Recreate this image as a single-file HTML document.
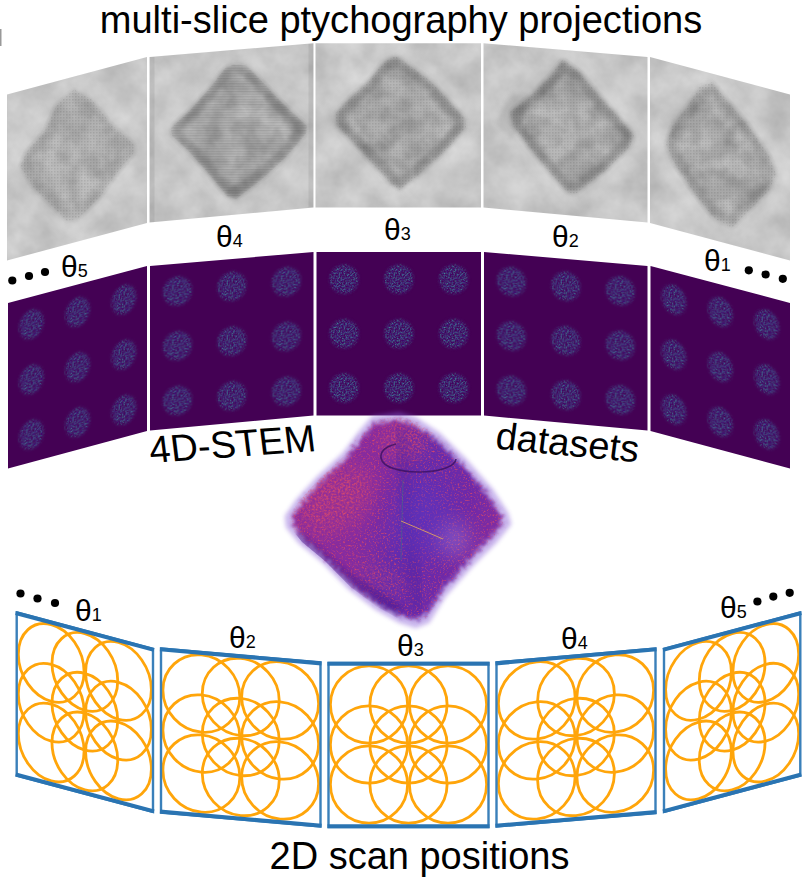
<!DOCTYPE html><html><head><meta charset="utf-8"><style>
html,body{margin:0;padding:0;background:#fff}
svg{display:block}
text{font-family:"Liberation Sans",sans-serif;fill:#000}
</style></head><body>
<svg width="806" height="889" viewBox="0 0 806 889">
<defs>
<filter id="cloud" x="0" y="0" width="100%" height="100%" color-interpolation-filters="sRGB">
<feTurbulence type="fractalNoise" baseFrequency="0.03" numOctaves="4" seed="7" result="n"/>
<feColorMatrix in="n" type="matrix" values="0.18 0 0 0 0.685  0.18 0 0 0 0.685  0.18 0 0 0 0.685  0 0 0 0 1"/>
</filter>
<filter id="blur4" x="-20%" y="-20%" width="140%" height="140%"><feGaussianBlur stdDeviation="2.2"/></filter>
<filter id="blur6" x="-80%" y="-80%" width="260%" height="260%"><feGaussianBlur stdDeviation="11"/></filter>
<filter id="blur5" x="-20%" y="-20%" width="140%" height="140%"><feGaussianBlur stdDeviation="4.5"/></filter>
<filter id="blur2" x="-20%" y="-20%" width="140%" height="140%"><feGaussianBlur stdDeviation="2"/></filter>
<filter id="speck" x="-10%" y="-10%" width="120%" height="120%" color-interpolation-filters="sRGB">
<feTurbulence type="fractalNoise" baseFrequency="0.6" numOctaves="2" seed="11" result="n"/>
<feColorMatrix in="n" type="matrix" values="0 0 0 0 0.25  1.0 0 0 0 -0.24  0.2 0 0 0 0.42  0 0 0 2.0 -0.42" result="c"/>
<feGaussianBlur in="SourceGraphic" stdDeviation="1.4" result="sb"/>
<feComposite in="c" in2="sb" operator="in"/>
</filter>
<filter id="mottle" x="-10%" y="-10%" width="120%" height="120%" color-interpolation-filters="sRGB">
<feGaussianBlur in="SourceGraphic" stdDeviation="2.5" result="b"/>
<feTurbulence type="fractalNoise" baseFrequency="0.05" numOctaves="3" seed="33" result="n"/>
<feColorMatrix in="n" type="matrix" values="0 0 0 0 0.15  0 0 0 0 0.15  0 0 0 0 0.15  0 0 0 2 -0.65" result="o"/>
<feComposite in="o" in2="b" operator="in"/>
</filter>
<pattern id="lat" width="3" height="3" patternUnits="userSpaceOnUse"><rect width="1.5" height="1.5" fill="#000"/></pattern>
<pattern id="lath" width="3" height="2.6" patternUnits="userSpaceOnUse"><rect width="3" height="1.2" fill="#000"/></pattern>
<filter id="grain" x="-10%" y="-10%" width="120%" height="120%" color-interpolation-filters="sRGB">
<feTurbulence type="fractalNoise" baseFrequency="0.4" numOctaves="2" seed="9" result="e"/>
<feDisplacementMap in="SourceGraphic" in2="e" scale="16" xChannelSelector="R" yChannelSelector="G" result="d"/>
<feGaussianBlur in="d" stdDeviation="1.6" result="b"/>
<feTurbulence type="fractalNoise" baseFrequency="0.55" numOctaves="2" seed="5" result="n"/>
<feColorMatrix in="n" type="matrix" values="0 0 0 0 0.84  0 0 0 0 0.28  0 0 0 0 0.42  3 0 0 0 -1.6" result="o"/>
<feComposite in="o" in2="b" operator="in" result="oo"/>
<feMerge><feMergeNode in="b"/><feMergeNode in="oo"/></feMerge>
</filter>
<filter id="speck2" x="-60%" y="-60%" width="220%" height="220%" color-interpolation-filters="sRGB">
<feGaussianBlur in="SourceGraphic" stdDeviation="10" result="b"/>
<feTurbulence type="fractalNoise" baseFrequency="0.5" numOctaves="2" seed="21" result="n"/>
<feColorMatrix in="n" type="matrix" values="0 0 0 0 0.88  0 0 0 0 0.3  0 0 0 0 0.4  3 0 0 0 -1.32" result="o"/>
<feComposite in="o" in2="b" operator="in"/>
</filter>
<linearGradient id="pg" x1="0" y1="0.3" x2="1" y2="0.6"><stop offset="0" stop-color="#8c2c9c"/><stop offset="0.35" stop-color="#862ca0"/><stop offset="0.55" stop-color="#652cae"/><stop offset="0.8" stop-color="#6f2aa8"/><stop offset="1" stop-color="#842ca0"/></linearGradient>

<clipPath id="g0"><polygon points="7.0,94.5 147.0,57.0 147.0,223.0 7.0,260.5"/></clipPath>
<clipPath id="g1"><polygon points="149.5,57.0 313.5,43.3 313.5,207.5 149.5,222.5"/></clipPath>
<clipPath id="g2"><polygon points="315.5,43.3 481.0,43.3 481.0,207.5 315.5,207.5"/></clipPath>
<clipPath id="g3"><polygon points="483.5,43.3 647.5,57.0 647.5,222.5 483.5,207.5"/></clipPath>
<clipPath id="g4"><polygon points="650.0,57.0 790.0,94.5 790.0,260.5 650.0,223.0"/></clipPath>
<clipPath id="p0"><polygon points="8.0,303.0 147.0,266.0 147.0,431.0 8.0,468.5"/></clipPath>
<clipPath id="p1"><polygon points="150.0,266.0 313.5,252.0 313.5,415.5 150.0,430.5"/></clipPath>
<clipPath id="p2"><polygon points="316.5,252.0 481.0,252.0 481.0,415.5 316.5,415.5"/></clipPath>
<clipPath id="p3"><polygon points="484.0,252.0 647.5,266.0 647.5,430.5 484.0,415.5"/></clipPath>
<clipPath id="p4"><polygon points="650.5,266.0 790.0,303.0 790.0,468.5 650.5,431.0"/></clipPath>
<clipPath id="pc"><polygon points="373.0,420.0 399.0,416.0 415.0,421.0 438.0,436.0 463.5,461.0 489.0,490.0 504.0,513.0 507.0,524.0 492.6,542.0 470.0,564.5 444.0,593.5 428.0,619.0 415.0,624.0 399.0,619.0 376.5,606.5 350.6,587.0 325.0,561.0 302.0,542.0 290.0,527.0 289.0,516.0 300.0,500.0 320.0,478.0 345.0,455.0 360.0,435.0"/></clipPath>
</defs>
<rect width="806" height="889" fill="#fff"/>
<rect x="0" y="29" width="1.5" height="17" fill="#999"/>
<g clip-path="url(#g0)">
<rect x="0" y="40" width="806" height="225" filter="url(#cloud)"/>
<polygon points="73.6,76.0 94.8,87.9 118.0,117.3 145.3,141.3 146.8,150.3 124.0,177.3 103.6,206.7 79.6,230.1 65.2,233.7 44.2,212.7 23.2,191.7 8.8,167.7 17.2,150.3 38.4,126.5 53.2,93.9" fill="none" stroke="#fff" stroke-width="8" opacity="0.16" filter="url(#blur5)"/>
<polygon points="74.0,89.6 91.6,99.5 111.0,124.0 133.7,144.0 135.0,151.5 116.0,174.0 99.0,198.5 79.0,218.0 67.0,221.0 49.5,203.5 32.0,186.0 20.0,166.0 27.0,151.5 44.6,131.7 57.0,104.5" fill="#404040" opacity="0.08" filter="url(#blur4)"/>
<polygon points="74.2,96.4 90.0,105.3 107.5,127.4 127.9,145.4 129.1,152.1 112.0,172.4 96.7,194.4 78.7,212.0 67.9,214.7 52.1,198.9 36.4,183.2 25.6,165.2 31.9,152.1 47.7,134.3 58.9,109.8" fill="none" stroke="#303030" stroke-width="9" stroke-linejoin="round" opacity="0.06" filter="url(#blur4)"/>
<polygon points="74.0,89.6 91.6,99.5 111.0,124.0 133.7,144.0 135.0,151.5 116.0,174.0 99.0,198.5 79.0,218.0 67.0,221.0 49.5,203.5 32.0,186.0 20.0,166.0 27.0,151.5 44.6,131.7 57.0,104.5" fill="#000" opacity="0.16" filter="url(#mottle)"/>
<polygon points="74.0,89.6 91.6,99.5 111.0,124.0 133.7,144.0 135.0,151.5 116.0,174.0 99.0,198.5 79.0,218.0 67.0,221.0 49.5,203.5 32.0,186.0 20.0,166.0 27.0,151.5 44.6,131.7 57.0,104.5" fill="url(#lat)" opacity="0.09"/>
</g>
<g clip-path="url(#g1)">
<rect x="0" y="40" width="806" height="225" filter="url(#cloud)"/>
<polygon points="234.7,51.3 249.1,53.7 273.1,78.9 293.5,100.5 321.1,125.7 319.9,134.7 295.9,162.9 267.1,189.3 235.9,213.3 225.8,210.3 204.7,184.5 178.9,155.7 159.1,137.2 157.9,128.1 178.9,108.9 204.7,80.1 223.2,56.1" fill="none" stroke="#fff" stroke-width="8" opacity="0.16" filter="url(#blur5)"/>
<polygon points="235.0,64.0 247.0,66.0 267.0,87.0 284.0,105.0 307.0,126.0 306.0,133.5 286.0,157.0 262.0,179.0 236.0,199.0 227.6,196.5 210.0,175.0 188.5,151.0 172.0,135.6 171.0,128.0 188.5,112.0 210.0,88.0 225.4,68.0" fill="#404040" opacity="0.13" filter="url(#blur4)"/>
<polygon points="235.2,70.4 246.0,72.2 264.0,91.1 279.3,107.3 300.0,126.2 299.1,132.9 281.1,154.1 259.5,173.9 236.1,191.9 228.5,189.6 212.7,170.3 193.3,148.7 178.5,134.8 177.6,128.0 193.3,113.6 212.7,92.0 226.5,74.0" fill="none" stroke="#303030" stroke-width="9" stroke-linejoin="round" opacity="0.2" filter="url(#blur4)"/>
<polygon points="235.0,64.0 247.0,66.0 267.0,87.0 284.0,105.0 307.0,126.0 306.0,133.5 286.0,157.0 262.0,179.0 236.0,199.0 227.6,196.5 210.0,175.0 188.5,151.0 172.0,135.6 171.0,128.0 188.5,112.0 210.0,88.0 225.4,68.0" fill="#000" opacity="0.2" filter="url(#mottle)"/>
<polygon points="235.0,64.0 247.0,66.0 267.0,87.0 284.0,105.0 307.0,126.0 306.0,133.5 286.0,157.0 262.0,179.0 236.0,199.0 227.6,196.5 210.0,175.0 188.5,151.0 172.0,135.6 171.0,128.0 188.5,112.0 210.0,88.0 225.4,68.0" fill="url(#lath)" opacity="0.09"/>
<polygon points="149.5,57 154.5,57 154.5,222.5 149.5,222.5" fill="#000" opacity="0.07"/>
<polygon points="313.5,43.3 308.5,43.3 308.5,207.5 313.5,207.5" fill="#000" opacity="0.07"/>
</g>
<g clip-path="url(#g2)">
<rect x="0" y="40" width="806" height="225" filter="url(#cloud)"/>
<polygon points="394.5,43.7 410.7,54.5 437.7,74.8 458.7,97.7 477.9,119.2 479.1,128.8 458.7,152.8 422.7,186.4 398.7,204.4 390.3,198.4 354.3,158.8 324.3,127.7 321.9,113.2 333.9,100.0 363.3,72.5 380.7,50.9" fill="none" stroke="#fff" stroke-width="8" opacity="0.16" filter="url(#blur5)"/>
<polygon points="395.5,56.0 409.0,65.0 431.5,82.0 449.0,101.0 465.0,119.0 466.0,127.0 449.0,147.0 419.0,175.0 399.0,190.0 392.0,185.0 362.0,152.0 337.0,126.0 335.0,114.0 345.0,103.0 369.5,80.0 384.0,62.0" fill="#404040" opacity="0.13" filter="url(#blur4)"/>
<polygon points="396.0,62.2 408.1,70.3 428.4,85.6 444.1,102.7 458.5,118.9 459.4,126.1 444.1,144.1 417.1,169.3 399.1,182.8 392.8,178.3 365.8,148.6 343.3,125.2 341.5,114.4 350.5,104.5 372.6,83.8 385.6,67.6" fill="none" stroke="#303030" stroke-width="9" stroke-linejoin="round" opacity="0.21" filter="url(#blur4)"/>
<polygon points="395.5,56.0 409.0,65.0 431.5,82.0 449.0,101.0 465.0,119.0 466.0,127.0 449.0,147.0 419.0,175.0 399.0,190.0 392.0,185.0 362.0,152.0 337.0,126.0 335.0,114.0 345.0,103.0 369.5,80.0 384.0,62.0" fill="#000" opacity="0.2" filter="url(#mottle)"/>
<polygon points="395.5,56.0 409.0,65.0 431.5,82.0 449.0,101.0 465.0,119.0 466.0,127.0 449.0,147.0 419.0,175.0 399.0,190.0 392.0,185.0 362.0,152.0 337.0,126.0 335.0,114.0 345.0,103.0 369.5,80.0 384.0,62.0" fill="url(#lat)" opacity="0.09"/>
</g>
<g clip-path="url(#g3)">
<rect x="0" y="40" width="806" height="225" filter="url(#cloud)"/>
<polygon points="560.9,45.8 579.4,58.8 607.9,92.8 631.0,118.3 646.6,137.0 641.8,150.1 613.0,178.3 576.5,207.1 566.2,204.7 548.2,184.3 526.6,157.9 500.9,124.3 497.8,108.7 521.8,90.1 545.2,66.7" fill="none" stroke="#fff" stroke-width="8" opacity="0.16" filter="url(#blur5)"/>
<polygon points="562.6,59.6 578.0,70.4 601.7,98.7 621.0,120.0 634.0,135.6 630.0,146.5 606.0,170.0 575.6,194.0 567.0,192.0 552.0,175.0 534.0,153.0 512.6,125.0 510.0,112.0 530.0,96.5 549.5,77.0" fill="#404040" opacity="0.12" filter="url(#blur4)"/>
<polygon points="563.4,66.5 577.3,76.2 598.6,101.7 616.0,120.8 627.7,134.9 624.1,144.7 602.5,165.8 575.1,187.4 567.4,185.6 553.9,170.3 537.7,150.5 518.4,125.3 516.1,113.6 534.1,99.7 551.6,82.1" fill="none" stroke="#303030" stroke-width="9" stroke-linejoin="round" opacity="0.2" filter="url(#blur4)"/>
<polygon points="512,92 495,123 513,140 532,97" fill="#404040" opacity="0.13" filter="url(#blur4)"/>
<polygon points="562.6,59.6 578.0,70.4 601.7,98.7 621.0,120.0 634.0,135.6 630.0,146.5 606.0,170.0 575.6,194.0 567.0,192.0 552.0,175.0 534.0,153.0 512.6,125.0 510.0,112.0 530.0,96.5 549.5,77.0" fill="#000" opacity="0.2" filter="url(#mottle)"/>
<polygon points="562.6,59.6 578.0,70.4 601.7,98.7 621.0,120.0 634.0,135.6 630.0,146.5 606.0,170.0 575.6,194.0 567.0,192.0 552.0,175.0 534.0,153.0 512.6,125.0 510.0,112.0 530.0,96.5 549.5,77.0" fill="url(#lat)" opacity="0.09"/>
</g>
<g clip-path="url(#g4)">
<rect x="0" y="40" width="806" height="225" filter="url(#cloud)"/>
<polygon points="710.3,67.7 724.9,85.7 754.9,121.3 778.9,156.5 787.3,178.1 778.9,198.5 757.9,218.9 734.1,242.9 712.9,230.9 689.5,201.6 665.8,166.1 655.3,142.1 662.5,121.3 680.5,97.7 695.5,73.7" fill="none" stroke="#fff" stroke-width="8" opacity="0.16" filter="url(#blur5)"/>
<polygon points="711.8,82.0 724.0,97.0 749.0,126.7 769.0,156.0 776.0,174.0 769.0,191.0 751.5,208.0 731.6,228.0 714.0,218.0 694.5,193.6 674.7,164.0 666.0,144.0 672.0,126.7 687.0,107.0 699.5,87.0" fill="#404040" opacity="0.1" filter="url(#blur4)"/>
<polygon points="712.6,89.2 723.5,102.7 746.0,129.4 764.0,155.8 770.3,172.0 764.0,187.3 748.3,202.6 730.4,220.6 714.5,211.6 697.0,189.6 679.2,163.0 671.3,145.0 676.7,129.4 690.2,111.7 701.5,93.7" fill="none" stroke="#303030" stroke-width="9" stroke-linejoin="round" opacity="0.13" filter="url(#blur4)"/>
<polygon points="711.8,82.0 724.0,97.0 749.0,126.7 769.0,156.0 776.0,174.0 769.0,191.0 751.5,208.0 731.6,228.0 714.0,218.0 694.5,193.6 674.7,164.0 666.0,144.0 672.0,126.7 687.0,107.0 699.5,87.0" fill="#000" opacity="0.2" filter="url(#mottle)"/>
<polygon points="711.8,82.0 724.0,97.0 749.0,126.7 769.0,156.0 776.0,174.0 769.0,191.0 751.5,208.0 731.6,228.0 714.0,218.0 694.5,193.6 674.7,164.0 666.0,144.0 672.0,126.7 687.0,107.0 699.5,87.0" fill="url(#lat)" opacity="0.09"/>
</g>
<polygon points="8.0,303.0 147.0,266.0 147.0,431.0 8.0,468.5" fill="#440154"/>
<g clip-path="url(#p0)">
<ellipse cx="0" cy="0" rx="12.2" ry="14.5" transform="matrix(1 -0.266 0 1 31.4 324.4)" fill="#fff" filter="url(#speck)"/>
<ellipse cx="0" cy="0" rx="12.2" ry="14.5" transform="matrix(1 -0.266 0 1 77.6 312.1)" fill="#fff" filter="url(#speck)"/>
<ellipse cx="0" cy="0" rx="12.2" ry="14.5" transform="matrix(1 -0.266 0 1 123.9 299.7)" fill="#fff" filter="url(#speck)"/>
<ellipse cx="0" cy="0" rx="12.2" ry="14.5" transform="matrix(1 -0.266 0 1 31.4 379.5)" fill="#fff" filter="url(#speck)"/>
<ellipse cx="0" cy="0" rx="12.2" ry="14.5" transform="matrix(1 -0.266 0 1 77.6 367.2)" fill="#fff" filter="url(#speck)"/>
<ellipse cx="0" cy="0" rx="12.2" ry="14.5" transform="matrix(1 -0.266 0 1 123.9 354.8)" fill="#fff" filter="url(#speck)"/>
<ellipse cx="0" cy="0" rx="12.2" ry="14.5" transform="matrix(1 -0.266 0 1 31.4 434.6)" fill="#fff" filter="url(#speck)"/>
<ellipse cx="0" cy="0" rx="12.2" ry="14.5" transform="matrix(1 -0.266 0 1 77.6 422.3)" fill="#fff" filter="url(#speck)"/>
<ellipse cx="0" cy="0" rx="12.2" ry="14.5" transform="matrix(1 -0.266 0 1 123.9 410.0)" fill="#fff" filter="url(#speck)"/>
</g>
<polygon points="150.0,266.0 313.5,252.0 313.5,415.5 150.0,430.5" fill="#440154"/>
<g clip-path="url(#p1)">
<ellipse cx="0" cy="0" rx="14.4" ry="14.5" transform="matrix(1 -0.086 0 1 177.5 291.1)" fill="#fff" filter="url(#speck)"/>
<ellipse cx="0" cy="0" rx="14.4" ry="14.5" transform="matrix(1 -0.086 0 1 231.9 286.4)" fill="#fff" filter="url(#speck)"/>
<ellipse cx="0" cy="0" rx="14.4" ry="14.5" transform="matrix(1 -0.086 0 1 286.4 281.7)" fill="#fff" filter="url(#speck)"/>
<ellipse cx="0" cy="0" rx="14.4" ry="14.5" transform="matrix(1 -0.086 0 1 177.5 345.8)" fill="#fff" filter="url(#speck)"/>
<ellipse cx="0" cy="0" rx="14.4" ry="14.5" transform="matrix(1 -0.086 0 1 231.9 341.2)" fill="#fff" filter="url(#speck)"/>
<ellipse cx="0" cy="0" rx="14.4" ry="14.5" transform="matrix(1 -0.086 0 1 286.4 336.5)" fill="#fff" filter="url(#speck)"/>
<ellipse cx="0" cy="0" rx="14.4" ry="14.5" transform="matrix(1 -0.086 0 1 177.5 400.6)" fill="#fff" filter="url(#speck)"/>
<ellipse cx="0" cy="0" rx="14.4" ry="14.5" transform="matrix(1 -0.086 0 1 231.9 396.0)" fill="#fff" filter="url(#speck)"/>
<ellipse cx="0" cy="0" rx="14.4" ry="14.5" transform="matrix(1 -0.086 0 1 286.4 391.3)" fill="#fff" filter="url(#speck)"/>
</g>
<polygon points="316.5,252.0 481.0,252.0 481.0,415.5 316.5,415.5" fill="#440154"/>
<g clip-path="url(#p2)">
<ellipse cx="0" cy="0" rx="14.5" ry="14.5" transform="matrix(1 0.000 0 1 344.1 279.3)" fill="#fff" filter="url(#speck)"/>
<ellipse cx="0" cy="0" rx="14.5" ry="14.5" transform="matrix(1 0.000 0 1 398.9 279.3)" fill="#fff" filter="url(#speck)"/>
<ellipse cx="0" cy="0" rx="14.5" ry="14.5" transform="matrix(1 0.000 0 1 453.7 279.3)" fill="#fff" filter="url(#speck)"/>
<ellipse cx="0" cy="0" rx="14.5" ry="14.5" transform="matrix(1 0.000 0 1 344.1 333.7)" fill="#fff" filter="url(#speck)"/>
<ellipse cx="0" cy="0" rx="14.5" ry="14.5" transform="matrix(1 0.000 0 1 398.9 333.7)" fill="#fff" filter="url(#speck)"/>
<ellipse cx="0" cy="0" rx="14.5" ry="14.5" transform="matrix(1 0.000 0 1 453.7 333.7)" fill="#fff" filter="url(#speck)"/>
<ellipse cx="0" cy="0" rx="14.5" ry="14.5" transform="matrix(1 0.000 0 1 344.1 388.1)" fill="#fff" filter="url(#speck)"/>
<ellipse cx="0" cy="0" rx="14.5" ry="14.5" transform="matrix(1 0.000 0 1 398.9 388.1)" fill="#fff" filter="url(#speck)"/>
<ellipse cx="0" cy="0" rx="14.5" ry="14.5" transform="matrix(1 0.000 0 1 453.7 388.1)" fill="#fff" filter="url(#speck)"/>
</g>
<polygon points="484.0,252.0 647.5,266.0 647.5,430.5 484.0,415.5" fill="#440154"/>
<g clip-path="url(#p3)">
<ellipse cx="0" cy="0" rx="14.4" ry="14.5" transform="matrix(1 0.086 0 1 511.5 281.6)" fill="#fff" filter="url(#speck)"/>
<ellipse cx="0" cy="0" rx="14.4" ry="14.5" transform="matrix(1 0.086 0 1 565.9 286.3)" fill="#fff" filter="url(#speck)"/>
<ellipse cx="0" cy="0" rx="14.4" ry="14.5" transform="matrix(1 0.086 0 1 620.4 290.9)" fill="#fff" filter="url(#speck)"/>
<ellipse cx="0" cy="0" rx="14.4" ry="14.5" transform="matrix(1 0.086 0 1 511.5 336.1)" fill="#fff" filter="url(#speck)"/>
<ellipse cx="0" cy="0" rx="14.4" ry="14.5" transform="matrix(1 0.086 0 1 565.9 340.7)" fill="#fff" filter="url(#speck)"/>
<ellipse cx="0" cy="0" rx="14.4" ry="14.5" transform="matrix(1 0.086 0 1 620.4 345.4)" fill="#fff" filter="url(#speck)"/>
<ellipse cx="0" cy="0" rx="14.4" ry="14.5" transform="matrix(1 0.086 0 1 511.5 390.5)" fill="#fff" filter="url(#speck)"/>
<ellipse cx="0" cy="0" rx="14.4" ry="14.5" transform="matrix(1 0.086 0 1 565.9 395.2)" fill="#fff" filter="url(#speck)"/>
<ellipse cx="0" cy="0" rx="14.4" ry="14.5" transform="matrix(1 0.086 0 1 620.4 399.8)" fill="#fff" filter="url(#speck)"/>
</g>
<polygon points="650.5,266.0 790.0,303.0 790.0,468.5 650.5,431.0" fill="#440154"/>
<g clip-path="url(#p4)">
<ellipse cx="0" cy="0" rx="12.3" ry="14.5" transform="matrix(1 0.265 0 1 673.9 299.7)" fill="#fff" filter="url(#speck)"/>
<ellipse cx="0" cy="0" rx="12.3" ry="14.5" transform="matrix(1 0.265 0 1 720.4 312.0)" fill="#fff" filter="url(#speck)"/>
<ellipse cx="0" cy="0" rx="12.3" ry="14.5" transform="matrix(1 0.265 0 1 766.8 324.4)" fill="#fff" filter="url(#speck)"/>
<ellipse cx="0" cy="0" rx="12.3" ry="14.5" transform="matrix(1 0.265 0 1 673.9 354.7)" fill="#fff" filter="url(#speck)"/>
<ellipse cx="0" cy="0" rx="12.3" ry="14.5" transform="matrix(1 0.265 0 1 720.4 367.0)" fill="#fff" filter="url(#speck)"/>
<ellipse cx="0" cy="0" rx="12.3" ry="14.5" transform="matrix(1 0.265 0 1 766.8 379.3)" fill="#fff" filter="url(#speck)"/>
<ellipse cx="0" cy="0" rx="12.3" ry="14.5" transform="matrix(1 0.265 0 1 673.9 409.6)" fill="#fff" filter="url(#speck)"/>
<ellipse cx="0" cy="0" rx="12.3" ry="14.5" transform="matrix(1 0.265 0 1 720.4 421.9)" fill="#fff" filter="url(#speck)"/>
<ellipse cx="0" cy="0" rx="12.3" ry="14.5" transform="matrix(1 0.265 0 1 766.8 434.3)" fill="#fff" filter="url(#speck)"/>
</g>
<polygon points="372.1,416.0 399.1,411.9 415.8,417.1 439.7,432.7 466.2,458.7 492.7,488.8 508.3,512.8 511.5,524.2 496.5,542.9 473.0,566.3 445.9,596.5 429.3,623.0 415.8,628.2 399.1,623.0 375.7,610.0 348.8,589.7 322.2,562.7 298.3,542.9 285.8,527.3 284.7,515.9 296.2,499.2 317.0,476.4 343.0,452.4 358.6,431.6" fill="#8a60d8" opacity="0.45" filter="url(#blur4)"/>
<polygon points="373.9,424.0 398.9,420.1 414.2,424.9 436.3,439.3 460.8,463.3 485.3,491.2 499.7,513.2 502.5,523.8 488.7,541.1 467.0,562.7 442.1,590.5 426.7,615.0 414.2,619.8 398.9,615.0 377.3,603.0 352.4,584.3 327.8,559.3 305.7,541.1 294.2,526.7 293.3,516.1 303.8,500.8 323.0,479.6 347.0,457.6 361.4,438.4" fill="url(#pg)" filter="url(#grain)"/>
<g clip-path="url(#pc)">
<ellipse cx="340" cy="500" rx="40" ry="28" fill="#d04078" opacity="0.1" filter="url(#blur6)" transform="rotate(-35 340 500)"/>
<ellipse cx="405" cy="440" rx="22" ry="18" fill="#d04078" opacity="0.1" filter="url(#blur6)"/>
<ellipse cx="335" cy="500" rx="42" ry="26" fill="#fff" filter="url(#speck2)" transform="rotate(-40 335 500)"/>
<ellipse cx="405" cy="440" rx="24" ry="18" fill="#fff" filter="url(#speck2)"/>
<ellipse cx="380" cy="580" rx="30" ry="14" fill="#fff" opacity="0.7" filter="url(#speck2)" transform="rotate(35 380 580)"/>
<path d="M296,536 L350,580 L400,612" fill="none" stroke="#47188a" stroke-width="12" opacity="0.45" filter="url(#blur4)"/>
<path d="M400,430 L408,520 L418,610" fill="none" stroke="#4a20a0" stroke-width="14" opacity="0.3" filter="url(#blur5)"/>
<ellipse cx="425" cy="520" rx="30" ry="40" fill="#5a38c8" opacity="0.4" filter="url(#blur6)"/>
<ellipse cx="455" cy="540" rx="12" ry="16" fill="#b9a0e8" opacity="0.45" filter="url(#blur6)"/>
</g>
<path d="M456,459 C455,475 385,478 381,458 C380,450 388,446 396,444" fill="none" stroke="#3a1060" stroke-width="1.6" opacity="0.8"/>
<line x1="403" y1="480" x2="401" y2="560" stroke="#3a7a80" stroke-width="0.8" opacity="0.6"/>
<line x1="401" y1="521" x2="443" y2="539" stroke="#e0a060" stroke-width="0.9"/>
<g transform="matrix(0.8519 0.2269 0.0000 0.9945 16.7 612.5)">
<circle cx="40.5" cy="41.5" r="38.6" fill="none" stroke="#ffa50a" stroke-width="2.8" vector-effect="non-scaling-stroke"/>
<circle cx="80" cy="41.5" r="38.6" fill="none" stroke="#ffa50a" stroke-width="2.8" vector-effect="non-scaling-stroke"/>
<circle cx="119.5" cy="41.5" r="38.6" fill="none" stroke="#ffa50a" stroke-width="2.8" vector-effect="non-scaling-stroke"/>
<circle cx="40.5" cy="81.5" r="38.6" fill="none" stroke="#ffa50a" stroke-width="2.8" vector-effect="non-scaling-stroke"/>
<circle cx="80" cy="81.5" r="38.6" fill="none" stroke="#ffa50a" stroke-width="2.8" vector-effect="non-scaling-stroke"/>
<circle cx="119.5" cy="81.5" r="38.6" fill="none" stroke="#ffa50a" stroke-width="2.8" vector-effect="non-scaling-stroke"/>
<circle cx="40.5" cy="121.5" r="38.6" fill="none" stroke="#ffa50a" stroke-width="2.8" vector-effect="non-scaling-stroke"/>
<circle cx="80" cy="121.5" r="38.6" fill="none" stroke="#ffa50a" stroke-width="2.8" vector-effect="non-scaling-stroke"/>
<circle cx="119.5" cy="121.5" r="38.6" fill="none" stroke="#ffa50a" stroke-width="2.8" vector-effect="non-scaling-stroke"/>
</g>
<polygon points="16.7,612.5 153.0,648.8 153.0,811.9 16.7,775.6" fill="none" stroke="#3a80ba" stroke-width="2.4"/>
<line x1="15.7" y1="613.0336757153337" x2="154" y2="649.8663242846661" stroke="#2a74b2" stroke-width="4.1"/>
<line x1="15.7" y1="774.5336757153339" x2="154" y2="811.3663242846662" stroke="#2a74b2" stroke-width="4.1"/>
<g transform="matrix(0.9969 0.0875 0.0000 1.0000 161.0 648.5)">
<circle cx="40.5" cy="41.5" r="38.6" fill="none" stroke="#ffa50a" stroke-width="2.8" vector-effect="non-scaling-stroke"/>
<circle cx="80" cy="41.5" r="38.6" fill="none" stroke="#ffa50a" stroke-width="2.8" vector-effect="non-scaling-stroke"/>
<circle cx="119.5" cy="41.5" r="38.6" fill="none" stroke="#ffa50a" stroke-width="2.8" vector-effect="non-scaling-stroke"/>
<circle cx="40.5" cy="81.5" r="38.6" fill="none" stroke="#ffa50a" stroke-width="2.8" vector-effect="non-scaling-stroke"/>
<circle cx="80" cy="81.5" r="38.6" fill="none" stroke="#ffa50a" stroke-width="2.8" vector-effect="non-scaling-stroke"/>
<circle cx="119.5" cy="81.5" r="38.6" fill="none" stroke="#ffa50a" stroke-width="2.8" vector-effect="non-scaling-stroke"/>
<circle cx="40.5" cy="121.5" r="38.6" fill="none" stroke="#ffa50a" stroke-width="2.8" vector-effect="non-scaling-stroke"/>
<circle cx="80" cy="121.5" r="38.6" fill="none" stroke="#ffa50a" stroke-width="2.8" vector-effect="non-scaling-stroke"/>
<circle cx="119.5" cy="121.5" r="38.6" fill="none" stroke="#ffa50a" stroke-width="2.8" vector-effect="non-scaling-stroke"/>
</g>
<polygon points="161.0,648.5 320.5,662.5 320.5,826.5 161.0,812.5" fill="none" stroke="#3a80ba" stroke-width="2.4"/>
<line x1="160" y1="649.2122257053292" x2="321.5" y2="663.3877742946707" stroke="#2a74b2" stroke-width="4.1"/>
<line x1="160" y1="811.6122257053293" x2="321.5" y2="825.7877742946708" stroke="#2a74b2" stroke-width="4.1"/>
<g transform="matrix(1.0000 0.0000 0.0000 1.0000 328.5 663.0)">
<circle cx="40.5" cy="41.5" r="38.6" fill="none" stroke="#ffa50a" stroke-width="2.8" vector-effect="non-scaling-stroke"/>
<circle cx="80" cy="41.5" r="38.6" fill="none" stroke="#ffa50a" stroke-width="2.8" vector-effect="non-scaling-stroke"/>
<circle cx="119.5" cy="41.5" r="38.6" fill="none" stroke="#ffa50a" stroke-width="2.8" vector-effect="non-scaling-stroke"/>
<circle cx="40.5" cy="81.5" r="38.6" fill="none" stroke="#ffa50a" stroke-width="2.8" vector-effect="non-scaling-stroke"/>
<circle cx="80" cy="81.5" r="38.6" fill="none" stroke="#ffa50a" stroke-width="2.8" vector-effect="non-scaling-stroke"/>
<circle cx="119.5" cy="81.5" r="38.6" fill="none" stroke="#ffa50a" stroke-width="2.8" vector-effect="non-scaling-stroke"/>
<circle cx="40.5" cy="121.5" r="38.6" fill="none" stroke="#ffa50a" stroke-width="2.8" vector-effect="non-scaling-stroke"/>
<circle cx="80" cy="121.5" r="38.6" fill="none" stroke="#ffa50a" stroke-width="2.8" vector-effect="non-scaling-stroke"/>
<circle cx="119.5" cy="121.5" r="38.6" fill="none" stroke="#ffa50a" stroke-width="2.8" vector-effect="non-scaling-stroke"/>
</g>
<polygon points="328.5,663.0 488.5,663.0 488.5,827.0 328.5,827.0" fill="none" stroke="#3a80ba" stroke-width="2.4"/>
<line x1="327.5" y1="663.8" x2="489.5" y2="663.8" stroke="#2a74b2" stroke-width="4.1"/>
<line x1="327.5" y1="826.2" x2="489.5" y2="826.2" stroke="#2a74b2" stroke-width="4.1"/>
<g transform="matrix(0.9938 -0.0875 0.0000 1.0000 496.5 662.5)">
<circle cx="40.5" cy="41.5" r="38.6" fill="none" stroke="#ffa50a" stroke-width="2.8" vector-effect="non-scaling-stroke"/>
<circle cx="80" cy="41.5" r="38.6" fill="none" stroke="#ffa50a" stroke-width="2.8" vector-effect="non-scaling-stroke"/>
<circle cx="119.5" cy="41.5" r="38.6" fill="none" stroke="#ffa50a" stroke-width="2.8" vector-effect="non-scaling-stroke"/>
<circle cx="40.5" cy="81.5" r="38.6" fill="none" stroke="#ffa50a" stroke-width="2.8" vector-effect="non-scaling-stroke"/>
<circle cx="80" cy="81.5" r="38.6" fill="none" stroke="#ffa50a" stroke-width="2.8" vector-effect="non-scaling-stroke"/>
<circle cx="119.5" cy="81.5" r="38.6" fill="none" stroke="#ffa50a" stroke-width="2.8" vector-effect="non-scaling-stroke"/>
<circle cx="40.5" cy="121.5" r="38.6" fill="none" stroke="#ffa50a" stroke-width="2.8" vector-effect="non-scaling-stroke"/>
<circle cx="80" cy="121.5" r="38.6" fill="none" stroke="#ffa50a" stroke-width="2.8" vector-effect="non-scaling-stroke"/>
<circle cx="119.5" cy="121.5" r="38.6" fill="none" stroke="#ffa50a" stroke-width="2.8" vector-effect="non-scaling-stroke"/>
</g>
<polygon points="496.5,662.5 655.5,648.5 655.5,813.0 496.5,826.5" fill="none" stroke="#3a80ba" stroke-width="2.4"/>
<line x1="495.5" y1="663.3880503144653" x2="656.5" y2="649.2119496855346" stroke="#2a74b2" stroke-width="4.1"/>
<line x1="495.5" y1="825.7880503144654" x2="656.5" y2="812.1119496855347" stroke="#2a74b2" stroke-width="4.1"/>
<g transform="matrix(0.8519 -0.2269 0.0000 0.9945 664.0 648.8)">
<circle cx="40.5" cy="41.5" r="38.6" fill="none" stroke="#ffa50a" stroke-width="2.8" vector-effect="non-scaling-stroke"/>
<circle cx="80" cy="41.5" r="38.6" fill="none" stroke="#ffa50a" stroke-width="2.8" vector-effect="non-scaling-stroke"/>
<circle cx="119.5" cy="41.5" r="38.6" fill="none" stroke="#ffa50a" stroke-width="2.8" vector-effect="non-scaling-stroke"/>
<circle cx="40.5" cy="81.5" r="38.6" fill="none" stroke="#ffa50a" stroke-width="2.8" vector-effect="non-scaling-stroke"/>
<circle cx="80" cy="81.5" r="38.6" fill="none" stroke="#ffa50a" stroke-width="2.8" vector-effect="non-scaling-stroke"/>
<circle cx="119.5" cy="81.5" r="38.6" fill="none" stroke="#ffa50a" stroke-width="2.8" vector-effect="non-scaling-stroke"/>
<circle cx="40.5" cy="121.5" r="38.6" fill="none" stroke="#ffa50a" stroke-width="2.8" vector-effect="non-scaling-stroke"/>
<circle cx="80" cy="121.5" r="38.6" fill="none" stroke="#ffa50a" stroke-width="2.8" vector-effect="non-scaling-stroke"/>
<circle cx="119.5" cy="121.5" r="38.6" fill="none" stroke="#ffa50a" stroke-width="2.8" vector-effect="non-scaling-stroke"/>
</g>
<polygon points="664.0,648.8 800.3,612.5 800.3,775.6 664.0,811.9" fill="none" stroke="#3a80ba" stroke-width="2.4"/>
<line x1="663" y1="649.8663242846661" x2="801.3" y2="613.0336757153337" stroke="#2a74b2" stroke-width="4.1"/>
<line x1="663" y1="811.3663242846662" x2="801.3" y2="774.5336757153339" stroke="#2a74b2" stroke-width="4.1"/>
<text x="401" y="32.5" font-size="38.04" text-anchor="middle">multi-slice ptychography projections</text>
<text x="419.5" y="869" font-size="38" text-anchor="middle">2D scan positions</text>
<text transform="translate(234,457) rotate(-4.1) skewX(3)" font-size="38" text-anchor="middle">4D-STEM</text>
<text transform="translate(566,455.5) rotate(5.5) skewX(-2)" font-size="38" text-anchor="middle">datasets</text>
<text x="61" y="277" font-size="30">θ<tspan font-size="18">5</tspan></text>
<text x="216" y="247" font-size="30">θ<tspan font-size="18">4</tspan></text>
<text x="384" y="240" font-size="30">θ<tspan font-size="18">3</tspan></text>
<text x="552" y="247" font-size="30">θ<tspan font-size="18">2</tspan></text>
<text x="704" y="271" font-size="30">θ<tspan font-size="18">1</tspan></text>
<text x="75" y="621" font-size="30">θ<tspan font-size="18">1</tspan></text>
<text x="229" y="648" font-size="30">θ<tspan font-size="18">2</tspan></text>
<text x="397" y="656" font-size="30">θ<tspan font-size="18">3</tspan></text>
<text x="561" y="649" font-size="30">θ<tspan font-size="18">4</tspan></text>
<text x="720" y="618" font-size="30">θ<tspan font-size="18">5</tspan></text>
<circle cx="12.3" cy="280.5" r="4.1" fill="#000"/>
<circle cx="29" cy="276" r="4.1" fill="#000"/>
<circle cx="45" cy="272" r="4.1" fill="#000"/>
<circle cx="748.8" cy="270.3" r="4.1" fill="#000"/>
<circle cx="765.6" cy="274.5" r="4.1" fill="#000"/>
<circle cx="782.8" cy="278.8" r="4.1" fill="#000"/>
<circle cx="20.5" cy="593.5" r="4.1" fill="#000"/>
<circle cx="37.5" cy="598.5" r="4.1" fill="#000"/>
<circle cx="55" cy="603" r="4.1" fill="#000"/>
<circle cx="757.4" cy="601.5" r="4.1" fill="#000"/>
<circle cx="773.3" cy="596.6" r="4.1" fill="#000"/>
<circle cx="789.7" cy="592.8" r="4.1" fill="#000"/>
</svg></body></html>
